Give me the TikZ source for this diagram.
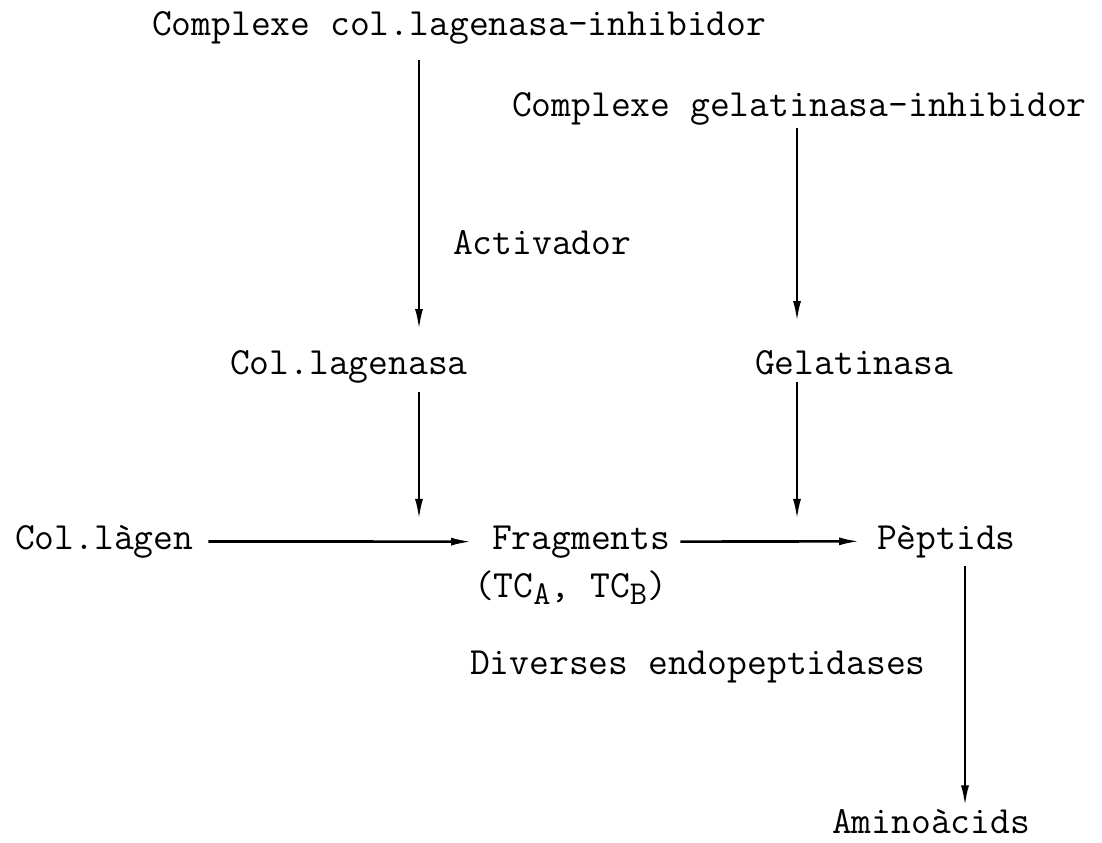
\documentclass[tikz,border=0pt]{standalone}
\usepackage{fontspec}
\usepackage{tikz}
\usetikzlibrary{arrows.meta}
\newcommand{\lowsub}[1]{\raisebox{-0.45ex}{\fontsize{19}{19}\selectfont #1}}
\tikzset{
txt/.style = {font=\ttfamily\fontsize{21.9}{26}\selectfont, inner sep=0pt, outer sep=0pt, anchor=base west},
flow/.style = {->, line width=1.5pt},
}
\begin{document}
\begin{tikzpicture}[x=0.02cm, y=-0.02cm, >={Latex[length=0.42cm,width=0.16cm]}]
		\useasboundingbox (0,0) rectangle (1102,842);
		\coordinate (colx) at (419,0);
		\coordinate (gelx) at (797,0);
		\coordinate (pepx) at (965,0);

		\node [txt] (cci) at (152,35) {Complexe col.lagenasa-inhibidor};
		\node [txt] (cgi) at (512,116) {Complexe gelatinasa-inhibidor};
		\node [txt] (act) at (453,254) {Activador};
		\node [txt] (colase) at (230,374) {Col.lagenasa};
		\node [txt] (gelase) at (755,374) {Gelatinasa};
		\node [txt] (colagen) at (15,549) {Col.làgen};
		\node [txt] (frag) at (492,549) {Fragments};
		\node [txt] (tc) at (474,597) {(TC\lowsub{A}, TC\lowsub{B})};
		\node [txt] (pep) at (877,549) {Pèptids};
		\node [txt] (endo) at (470,674) {Diverses endopeptidases};
		\node [txt] (amino) at (832,833) {Aminoàcids};

		\draw [flow, shorten <=0.33cm, shorten >=0.4cm] (cci.south -| colx) -- (colase.north -| colx);
		\draw [flow, shorten <=0.07cm, shorten >=0.56cm] (cgi.south -| gelx) -- (gelase.north -| gelx);
		\draw [flow, shorten <=0.19cm, shorten >=0.43cm] (colase.south -| colx) -- (colagen.east -| colx);
		\draw [flow, shorten <=0.15cm, shorten >=0.43cm] (gelase.south -| gelx) -- (colagen.east -| gelx);

		\draw [flow, shorten <=0.3cm, shorten >=0.4cm] (colagen.east) -- (frag.west);
		\draw [flow, shorten <=0.2cm, shorten >=0.34cm] (frag.east) -- (pep.west);
		\draw [flow, shorten <=0.17cm, shorten >=0.05cm] (pep.south -| pepx) -- (amino.north -| pepx);
    \end{tikzpicture}
\end{document}
